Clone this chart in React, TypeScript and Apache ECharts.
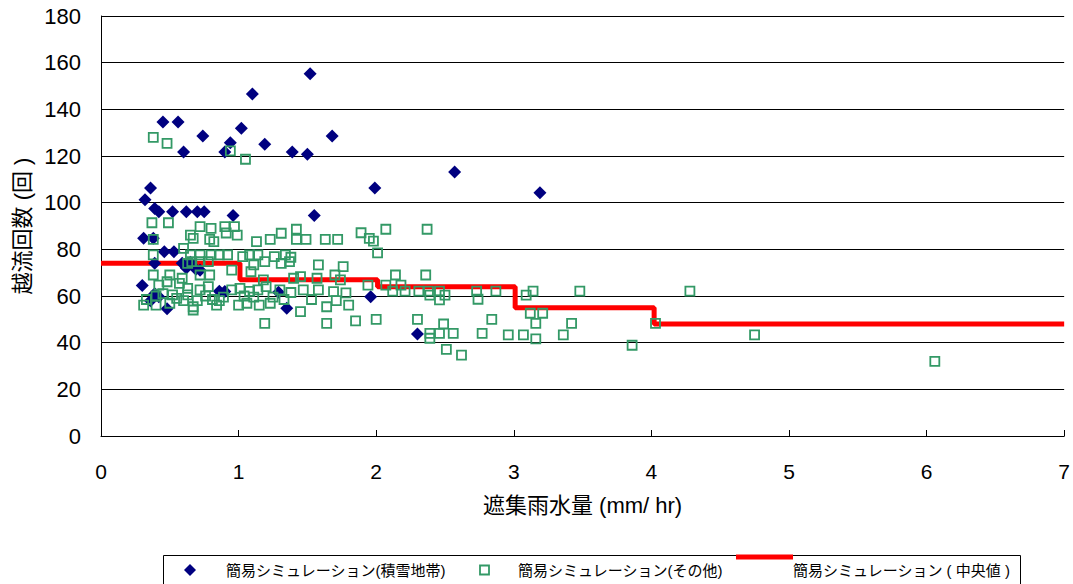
import React, { useEffect, useRef } from "react";
import * as echarts from "echarts";

const xTicks = [0, 1, 2, 3, 4, 5, 6, 7];
const yTicks = [0, 20, 40, 60, 80, 100, 120, 140, 160, 180];

const seriesNames = [
  "簡易シミュレーション(積雪地帯)",
  "簡易シミュレーション(その他)",
  "簡易シミュレーション ( 中央値 )",
];

// 積雪地帯 (navy diamonds)
const snowData: number[][] = [
  [1.52, 155.2], [1.1, 146.6], [0.45, 134.6], [0.56, 134.6], [0.74, 128.6], [1.02, 131.9],
  [1.19, 125], [1.68, 128.6], [0.6, 121.7], [0.94, 125.7], [0.9, 121.7], [1.39, 121.7],
  [1.5, 120.7], [0.36, 106.3], [1.99, 106.3], [2.57, 113.1], [3.19, 104.2], [0.32, 101.2],
  [0.39, 97.5], [0.42, 96.1], [0.52, 96.1], [0.62, 96.1], [0.7, 96.1], [0.75, 96.1],
  [0.96, 94.5], [1.55, 94.5], [0.31, 84.7], [0.38, 84.7], [0.46, 79], [0.53, 79],
  [0.39, 74], [0.59, 74], [0.65, 74.5], [0.69, 71.5], [0.62, 72], [0.72, 71],
  [0.3, 64.5], [0.42, 59.7], [0.39, 61], [0.36, 58], [0.48, 54.5], [0.86, 62], [0.9, 61.9],
  [1.29, 61.6], [1.35, 54.7], [1.96, 59.7], [2.3, 43.7],
];

// その他 (green hollow squares)
const otherData: number[][] = [
  [0.38, 128], [0.48, 125.4], [0.94, 122.2], [1.05, 118.6],
  [0.37, 91.4], [0.49, 91.4], [0.72, 89.7], [0.8, 89], [0.9, 89.7], [0.97, 89.7],
  [1.42, 88.6], [2.07, 88.6], [2.37, 88.6],
  [0.65, 86.1], [0.91, 87], [0.99, 86.1], [1.31, 86.9], [1.89, 87.1],
  [0.38, 84.3], [0.67, 84.7], [0.79, 84.3], [0.82, 83.3], [1.13, 83.3], [1.23, 84.3],
  [1.42, 84.3], [1.49, 84.3], [1.63, 84.3], [1.72, 84.3], [1.95, 84.7], [1.98, 83.5],
  [0.38, 77.6], [0.6, 80.4], [0.65, 77.6], [0.72, 77.6], [0.8, 77.6], [0.86, 77.6],
  [0.92, 77.6], [1.03, 76.9], [1.08, 77.6], [1.14, 77.6], [1.26, 76.9], [1.34, 77.6],
  [1.38, 76.6], [2.01, 78.5],
  [0.63, 74], [0.66, 74.7], [0.72, 74.7], [0.78, 74.7], [1.11, 73.3], [1.19, 74.7],
  [1.31, 74], [1.37, 74.7], [1.58, 73.3], [1.76, 72.6],
  [0.38, 69], [0.5, 69], [0.59, 67.6], [0.72, 69], [0.79, 69], [0.95, 71.1],
  [1.09, 70.4], [1.18, 66.9], [1.4, 67.6], [1.45, 68.3], [1.57, 67.6], [1.7, 69],
  [1.74, 66.9], [2.14, 69], [2.36, 69],
  [0.42, 64.7], [0.48, 66.1], [0.57, 65.4], [0.63, 63.3], [0.72, 62.6], [0.78, 64],
  [0.95, 62.6], [1.01, 63.3], [1.08, 62], [1.14, 62.6], [1.2, 64], [1.3, 62.6],
  [1.38, 61.5], [1.47, 62.6], [1.58, 62.6], [1.69, 61.9], [1.78, 61.3], [1.94, 64.7],
  [2.07, 64.7], [2.18, 64.7], [2.12, 62.1], [2.21, 62.1], [2.31, 62.1], [2.38, 62.1],
  [2.46, 62.1], [2.73, 62.1], [2.87, 62.1], [3.14, 62.1], [3.48, 62.1], [4.28, 62.1],
  [0.33, 58.5], [0.45, 61], [0.52, 60.5], [0.6, 58], [0.63, 60.5], [0.76, 60],
  [0.81, 58.5], [0.89, 59.5], [1.04, 60], [1.11, 59.5], [1.25, 59.5], [1.33, 58.5],
  [1.53, 58.5], [1.71, 58],
  [0.31, 56.1], [0.4, 56.1], [0.4, 60], [0.5, 56.9], [0.55, 59], [0.67, 55.4],
  [0.7, 58], [0.84, 56.1], [0.86, 58], [1.0, 56.1], [1.06, 56.9], [1.15, 56.1],
  [1.23, 56.9], [1.45, 53.3], [1.64, 55.4], [1.8, 56.1], [0.67, 54], [2.39, 60.4],
  [2.46, 58.3], [2.5, 60.4], [2.74, 58.6], [3.09, 60.4],
  [1.19, 48.3], [1.64, 48.3], [1.85, 49.3], [2.0, 50], [2.3, 50], [2.49, 48],
  [2.84, 50], [3.12, 52.6], [3.21, 52.6], [3.16, 48.3], [3.42, 48.3], [4.03, 48.3],
  [2.39, 44], [2.46, 44], [2.56, 44], [2.77, 44], [2.96, 43.3], [3.07, 43.3],
  [3.16, 41.6], [3.36, 43.3], [2.39, 41.9], [4.75, 43.3],
  [2.51, 37.1], [2.62, 34.7], [3.86, 38.9], [6.06, 32],
];

// 中央値 (red step line)
const medianData: number[][] = [
  [0, 74], [1.01, 74], [1.01, 67], [2.01, 67], [2.01, 64], [3.01, 64],
  [3.01, 55], [4.02, 55], [4.02, 48], [7, 48],
];

const NAVY = "#000080";
const GREEN = "#339966";
const RED = "#ff0000";
const FONT = "'Liberation Sans', Arial, 'Noto Sans CJK JP', sans-serif";

export default function App() {
  const ref = useRef<HTMLDivElement>(null);

  useEffect(() => {
    if (!ref.current) return;
    const chart = echarts.init(ref.current, null, { renderer: "svg" });
    const legendY = 570;
    chart.setOption({
      animation: false,
      backgroundColor: "#ffffff",
      textStyle: { fontFamily: FONT },
      grid: { left: 101, right: 8, top: 16, bottom: 148, containLabel: false },
      xAxis: {
        type: "value",
        min: xTicks[0],
        max: xTicks[xTicks.length - 1],
        interval: 1,
        name: "遮集雨水量 (mm/ hr)",
        nameLocation: "middle",
        nameGap: 58,
        nameTextStyle: { fontSize: 22, color: "#000", fontFamily: FONT },
        axisLine: { show: true, lineStyle: { color: "#000", width: 1 } },
        axisTick: { show: true, inside: true, length: 6, lineStyle: { color: "#000" } },
        axisLabel: { fontSize: 21, color: "#000", margin: 25, fontFamily: FONT },
        splitLine: { show: false },
      },
      yAxis: {
        type: "value",
        min: yTicks[0],
        max: yTicks[yTicks.length - 1],
        interval: 20,
        name: "越流回数 (回 )",
        nameLocation: "middle",
        nameRotate: 90,
        nameGap: 66,
        nameTextStyle: { fontSize: 22, color: "#000", fontFamily: FONT },
        axisLine: { show: true, lineStyle: { color: "#000", width: 1 } },
        axisTick: { show: false },
        axisLabel: { fontSize: 22, color: "#000", margin: 20, fontFamily: FONT },
        splitLine: { show: true, lineStyle: { color: "#000", width: 1 } },
      },
      series: [
        {
          name: seriesNames[2],
          type: "line",
          data: medianData,
          showSymbol: false,
          z: 1,
          lineStyle: { color: RED, width: 5 },
          itemStyle: { color: RED },
        },
        {
          name: seriesNames[0],
          type: "scatter",
          data: snowData,
          symbol: "diamond",
          symbolSize: 13,
          z: 2,
          itemStyle: { color: NAVY, opacity: 1 },
        },
        {
          name: seriesNames[1],
          type: "scatter",
          data: otherData,
          symbol: "rect",
          symbolSize: 9,
          z: 3,
          itemStyle: { color: "rgba(0,0,0,0)", borderColor: GREEN, borderWidth: 1.8, opacity: 1 },
        },
      ],
      graphic: [
        {
          type: "rect",
          shape: { x: 163.5, y: 555.5, width: 857, height: 40 },
          style: { fill: "#fff", stroke: "#000", lineWidth: 1 },
          z: 10,
        },
        {
          type: "polygon",
          shape: { points: [[190, legendY - 6], [196, legendY], [190, legendY + 6], [184, legendY]] },
          style: { fill: NAVY },
          z: 11,
        },
        {
          type: "text",
          x: 226,
          y: legendY,
          style: { text: seriesNames[0], fontSize: 15, fill: "#000", verticalAlign: "middle", fontFamily: FONT },
          z: 11,
        },
        {
          type: "rect",
          shape: { x: 480, y: legendY - 4.5, width: 9, height: 9 },
          style: { fill: "none", stroke: GREEN, lineWidth: 1.8 },
          z: 11,
        },
        {
          type: "text",
          x: 518,
          y: legendY,
          style: { text: seriesNames[1], fontSize: 15, fill: "#000", verticalAlign: "middle", fontFamily: FONT },
          z: 11,
        },
        {
          type: "line",
          shape: { x1: 736, y1: 557, x2: 793, y2: 557 },
          style: { stroke: RED, lineWidth: 5 },
          z: 11,
        },
        {
          type: "text",
          x: 793,
          y: legendY,
          style: { text: seriesNames[2], fontSize: 15, fill: "#000", verticalAlign: "middle", fontFamily: FONT },
          z: 11,
        },
      ],
    });
    return () => chart.dispose();
  }, []);

  return (
    <div
      ref={ref}
      style={{ position: "fixed", left: 0, top: 0, width: 1073, height: 584, background: "#fff" }}
    />
  );
}
